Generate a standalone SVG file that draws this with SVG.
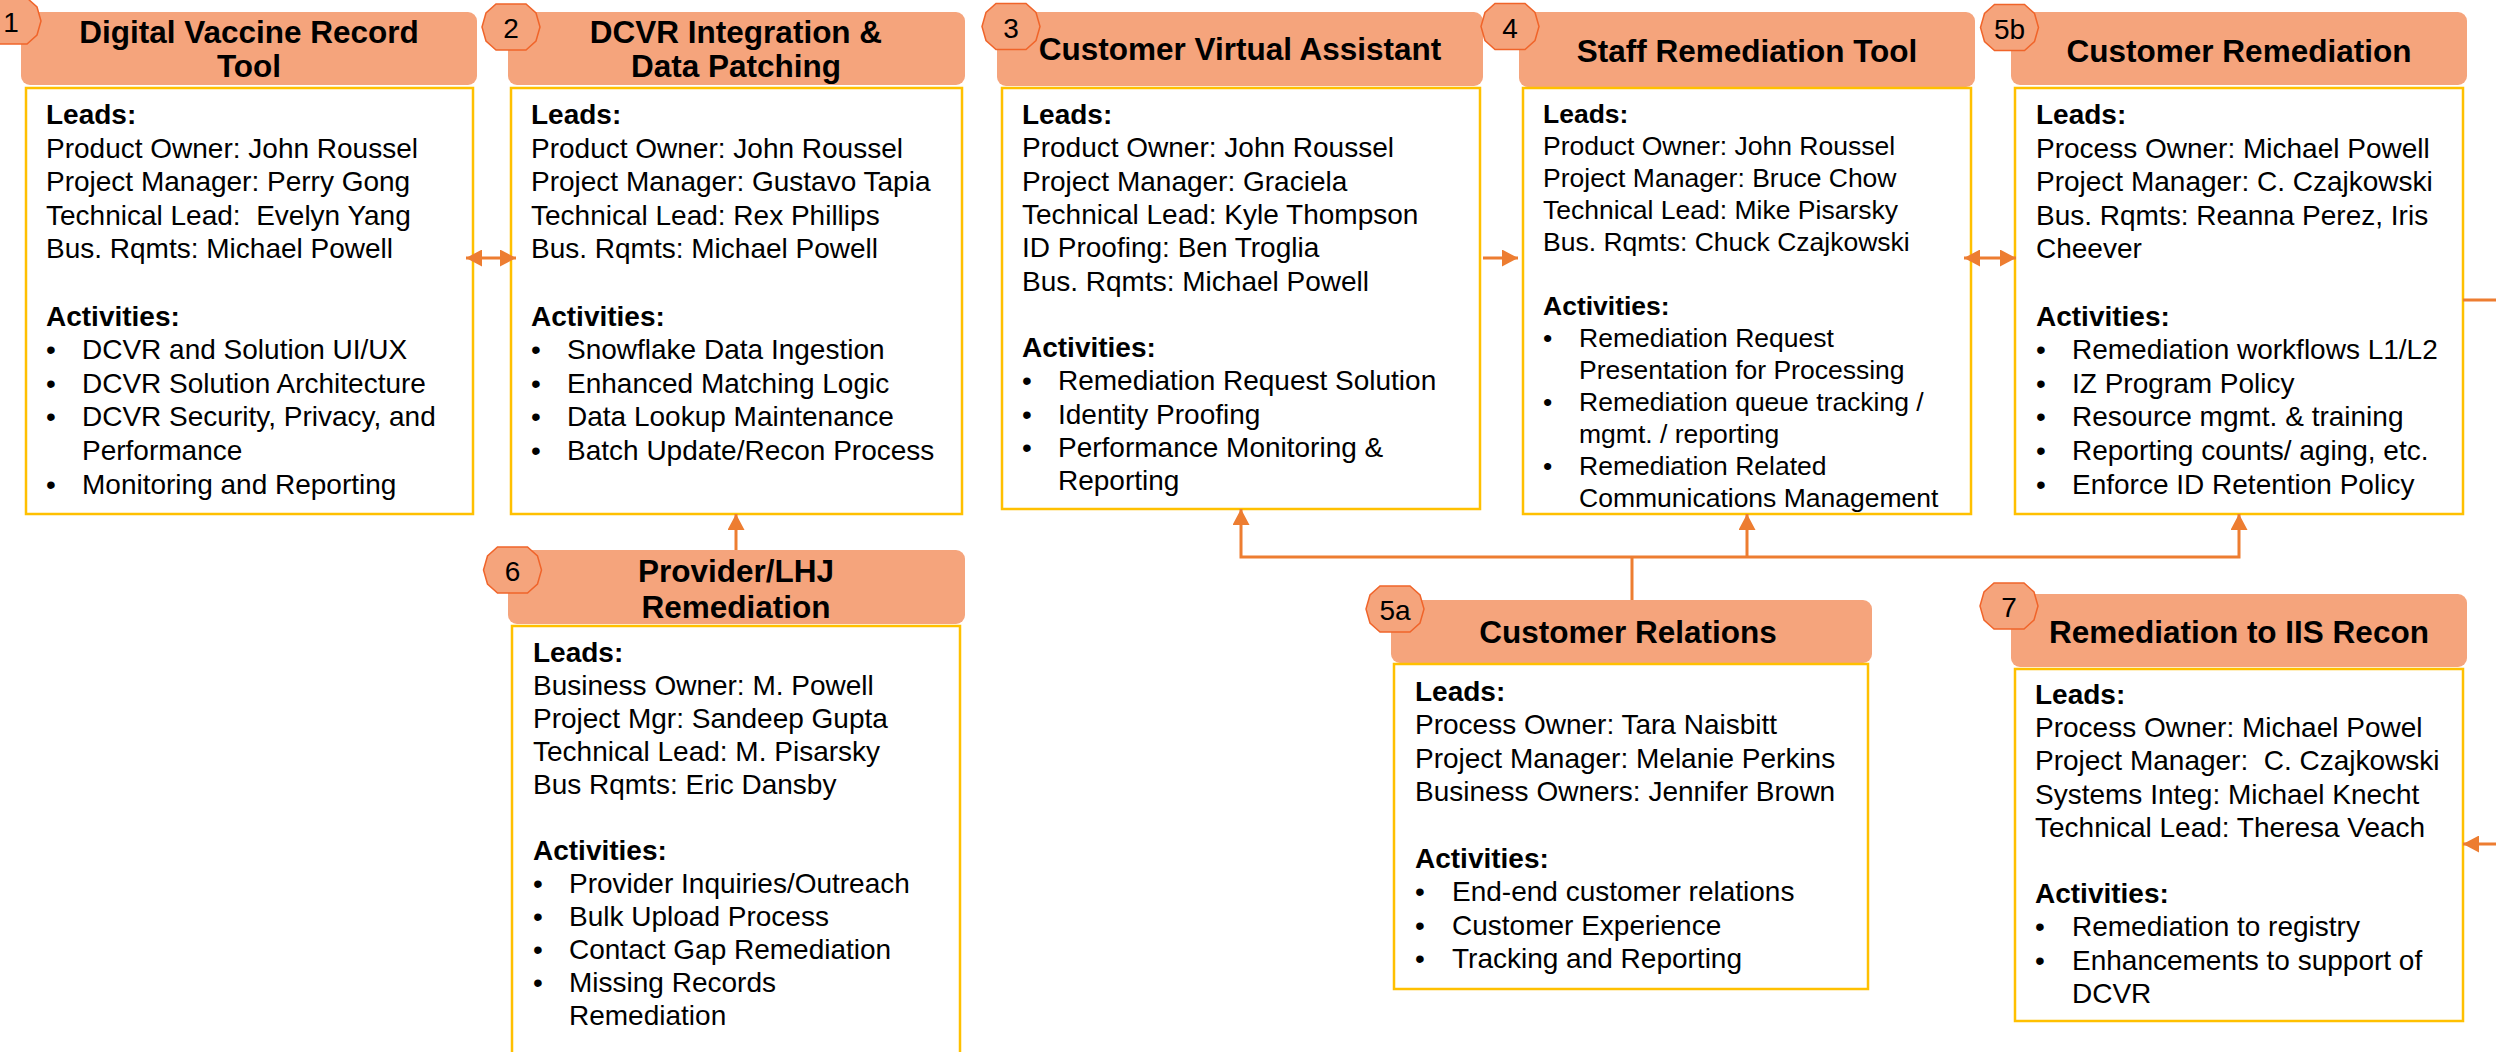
<svg xmlns="http://www.w3.org/2000/svg" xmlns:xlink="http://www.w3.org/1999/xlink" width="2496" height="1052" viewBox="0 0 2496 1052">
<style>
.hdr{fill:#F5A47C}
.bd{fill:#FFFFFF;stroke:#FFC000;stroke-width:2.5}
.bg{fill:#F5A47C;stroke:#F0642A;stroke-width:1.5}
.t{font-family:"Liberation Sans",Arial,sans-serif;font-size:28px;fill:#000}
.t4{font-family:"Liberation Sans",Arial,sans-serif;font-size:26.5px;fill:#000}
.b{font-weight:bold}
.ttl{font-family:"Liberation Sans",Arial,sans-serif;font-size:31.5px;font-weight:bold;text-anchor:middle;fill:#000}
.num{font-family:"Liberation Sans",Arial,sans-serif;font-size:28px;text-anchor:middle;fill:#000}
.conn{stroke:#ED7D31;stroke-width:3;fill:none}
</style>
<defs>
<polygon id="badge" points="-15,-23 15,-23 25,-14 29,0 25,14 15,23 -15,23 -25,14 -29,0 -25,-14"/>
<marker id="ah" markerUnits="userSpaceOnUse" markerWidth="17" markerHeight="17" refX="16" refY="8.5" orient="auto-start-reverse"><path d="M0,0 L16,8.5 L0,17 z" fill="#ED7D31"/></marker>
</defs>
<rect width="2496" height="1052" fill="#FFFFFF"/>

<g id="node1">
<rect class="hdr" x="21" y="12" width="456" height="73" rx="9"/>
<rect class="bd" x="26" y="88" width="447" height="426"/>
<use xlink:href="#badge" class="bg" x="12" y="21"/>
<text class="num" x="11" y="32">1</text>
<text class="ttl"><tspan x="249" y="42.7">Digital Vaccine Record</tspan><tspan x="249" y="77">Tool</tspan></text>
<text class="t">
<tspan class="b" x="46" y="124">Leads:</tspan>
<tspan x="46" y="157.6">Product Owner: John Roussel</tspan>
<tspan x="46" y="191.2">Project Manager: Perry Gong</tspan>
<tspan x="46" y="224.8">Technical Lead:&#160; Evelyn Yang</tspan>
<tspan x="46" y="258.4">Bus. Rqmts: Michael Powell</tspan>
<tspan class="b" x="46" y="325.6">Activities:</tspan>
<tspan x="46" y="359.2">•</tspan><tspan x="82" y="359.2">DCVR and Solution UI/UX</tspan>
<tspan x="46" y="392.8">•</tspan><tspan x="82" y="392.8">DCVR Solution Architecture</tspan>
<tspan x="46" y="426.4">•</tspan><tspan x="82" y="426.4">DCVR Security, Privacy, and</tspan>
<tspan x="82" y="460">Performance</tspan>
<tspan x="46" y="493.6">•</tspan><tspan x="82" y="493.6">Monitoring and Reporting</tspan>
</text>
</g>

<g id="node2">
<rect class="hdr" x="508" y="12" width="457" height="73" rx="9"/>
<rect class="bd" x="511" y="88" width="451" height="426"/>
<use xlink:href="#badge" class="bg" x="511" y="27"/>
<text class="num" x="511" y="38">2</text>
<text class="ttl"><tspan x="736" y="43">DCVR Integration &amp;</tspan><tspan x="736" y="77">Data Patching</tspan></text>
<text class="t">
<tspan class="b" x="531" y="124">Leads:</tspan>
<tspan x="531" y="157.6">Product Owner: John Roussel</tspan>
<tspan x="531" y="191.2">Project Manager: Gustavo Tapia</tspan>
<tspan x="531" y="224.8">Technical Lead: Rex Phillips</tspan>
<tspan x="531" y="258.4">Bus. Rqmts: Michael Powell</tspan>
<tspan class="b" x="531" y="325.6">Activities:</tspan>
<tspan x="531" y="359.2">•</tspan><tspan x="567" y="359.2">Snowflake Data Ingestion</tspan>
<tspan x="531" y="392.8">•</tspan><tspan x="567" y="392.8">Enhanced Matching Logic</tspan>
<tspan x="531" y="426.4">•</tspan><tspan x="567" y="426.4">Data Lookup Maintenance</tspan>
<tspan x="531" y="460">•</tspan><tspan x="567" y="460">Batch Update/Recon Process</tspan>
</text>
</g>

<g id="node3">
<rect class="hdr" x="997" y="12" width="486" height="74" rx="9"/>
<rect class="bd" x="1002" y="88" width="478" height="421"/>
<use xlink:href="#badge" class="bg" x="1011" y="26.5"/>
<text class="num" x="1011" y="37.5">3</text>
<text class="ttl" x="1240" y="60">Customer Virtual Assistant</text>
<text class="t">
<tspan class="b" x="1022" y="124">Leads:</tspan>
<tspan x="1022" y="157.3">Product Owner: John Roussel</tspan>
<tspan x="1022" y="190.6">Project Manager: Graciela</tspan>
<tspan x="1022" y="223.9">Technical Lead: Kyle Thompson</tspan>
<tspan x="1022" y="257.2">ID Proofing: Ben Troglia</tspan>
<tspan x="1022" y="290.5">Bus. Rqmts: Michael Powell</tspan>
<tspan class="b" x="1022" y="357.1">Activities:</tspan>
<tspan x="1022" y="390.4">•</tspan><tspan x="1058" y="390.4">Remediation Request Solution</tspan>
<tspan x="1022" y="423.7">•</tspan><tspan x="1058" y="423.7">Identity Proofing</tspan>
<tspan x="1022" y="457">•</tspan><tspan x="1058" y="457">Performance Monitoring &amp;</tspan>
<tspan x="1058" y="490.3">Reporting</tspan>
</text>
</g>

<g id="node4">
<rect class="hdr" x="1519" y="12" width="456" height="75" rx="9"/>
<rect class="bd" x="1523" y="88" width="448" height="426"/>
<use xlink:href="#badge" class="bg" x="1510" y="26.5"/>
<text class="num" x="1510" y="37.5">4</text>
<text class="ttl" x="1747" y="62">Staff Remediation Tool</text>
<text class="t4">
<tspan class="b" x="1543" y="123">Leads:</tspan>
<tspan x="1543" y="155">Product Owner: John Roussel</tspan>
<tspan x="1543" y="187">Project Manager: Bruce Chow</tspan>
<tspan x="1543" y="219">Technical Lead: Mike Pisarsky</tspan>
<tspan x="1543" y="251">Bus. Rqmts: Chuck Czajkowski</tspan>
<tspan class="b" x="1543" y="315">Activities:</tspan>
<tspan x="1543" y="347">•</tspan><tspan x="1579" y="347">Remediation Request</tspan>
<tspan x="1579" y="379">Presentation for Processing</tspan>
<tspan x="1543" y="411">•</tspan><tspan x="1579" y="411">Remediation queue tracking /</tspan>
<tspan x="1579" y="443">mgmt. / reporting</tspan>
<tspan x="1543" y="475">•</tspan><tspan x="1579" y="475">Remediation Related</tspan>
<tspan x="1579" y="507">Communications Management</tspan>
</text>
</g>

<g id="node5b">
<rect class="hdr" x="2011" y="12" width="456" height="73" rx="9"/>
<rect class="bd" x="2015" y="88" width="448" height="426"/>
<use xlink:href="#badge" class="bg" x="2009.5" y="27.5"/>
<text class="num" x="2009.5" y="38.5">5b</text>
<text class="ttl" x="2239" y="62">Customer Remediation</text>
<text class="t">
<tspan class="b" x="2036" y="124">Leads:</tspan>
<tspan x="2036" y="157.6">Process Owner: Michael Powell</tspan>
<tspan x="2036" y="191.2">Project Manager: C. Czajkowski</tspan>
<tspan x="2036" y="224.8">Bus. Rqmts: Reanna Perez, Iris</tspan>
<tspan x="2036" y="258.4">Cheever</tspan>
<tspan class="b" x="2036" y="325.6">Activities:</tspan>
<tspan x="2036" y="359.2">•</tspan><tspan x="2072" y="359.2">Remediation workflows L1/L2</tspan>
<tspan x="2036" y="392.8">•</tspan><tspan x="2072" y="392.8">IZ Program Policy</tspan>
<tspan x="2036" y="426.4">•</tspan><tspan x="2072" y="426.4">Resource mgmt. &amp; training</tspan>
<tspan x="2036" y="460">•</tspan><tspan x="2072" y="460">Reporting counts/ aging, etc.</tspan>
<tspan x="2036" y="493.6">•</tspan><tspan x="2072" y="493.6">Enforce ID Retention Policy</tspan>
</text>
</g>

<g id="node6">
<rect class="hdr" x="508" y="550" width="457" height="74" rx="9"/>
<rect class="bd" x="512" y="626" width="448" height="440"/>
<use xlink:href="#badge" class="bg" x="512.5" y="570"/>
<text class="num" x="512.5" y="581">6</text>
<text class="ttl"><tspan x="736" y="582">Provider/LHJ</tspan><tspan x="736" y="618">Remediation</tspan></text>
<text class="t">
<tspan class="b" x="533" y="662">Leads:</tspan>
<tspan x="533" y="695">Business Owner: M. Powell</tspan>
<tspan x="533" y="728">Project Mgr: Sandeep Gupta</tspan>
<tspan x="533" y="761">Technical Lead: M. Pisarsky</tspan>
<tspan x="533" y="794">Bus Rqmts: Eric Dansby</tspan>
<tspan class="b" x="533" y="860">Activities:</tspan>
<tspan x="533" y="893">•</tspan><tspan x="569" y="893">Provider Inquiries/Outreach</tspan>
<tspan x="533" y="926">•</tspan><tspan x="569" y="926">Bulk Upload Process</tspan>
<tspan x="533" y="959">•</tspan><tspan x="569" y="959">Contact Gap Remediation</tspan>
<tspan x="533" y="992">•</tspan><tspan x="569" y="992">Missing Records</tspan>
<tspan x="569" y="1025">Remediation</tspan>
</text>
</g>

<g id="node5a">
<rect class="hdr" x="1391" y="600" width="481" height="63" rx="9"/>
<rect class="bd" x="1394" y="664" width="474" height="325"/>
<use xlink:href="#badge" class="bg" x="1395" y="609"/>
<text class="num" x="1395" y="620">5a</text>
<text class="ttl" x="1628" y="643">Customer Relations</text>
<text class="t">
<tspan class="b" x="1415" y="701">Leads:</tspan>
<tspan x="1415" y="734.4">Process Owner: Tara Naisbitt</tspan>
<tspan x="1415" y="767.8">Project Manager: Melanie Perkins</tspan>
<tspan x="1415" y="801.2">Business Owners: Jennifer Brown</tspan>
<tspan class="b" x="1415" y="868">Activities:</tspan>
<tspan x="1415" y="901.4">•</tspan><tspan x="1452" y="901.4">End-end customer relations</tspan>
<tspan x="1415" y="934.8">•</tspan><tspan x="1452" y="934.8">Customer Experience</tspan>
<tspan x="1415" y="968.2">•</tspan><tspan x="1452" y="968.2">Tracking and Reporting</tspan>
</text>
</g>

<g id="node7">
<rect class="hdr" x="2011" y="594" width="456" height="73" rx="9"/>
<rect class="bd" x="2015" y="669" width="448" height="352"/>
<use xlink:href="#badge" class="bg" x="2009" y="606"/>
<text class="num" x="2009" y="617">7</text>
<text class="ttl" x="2239" y="643">Remediation to IIS Recon</text>
<text class="t">
<tspan class="b" x="2035" y="704">Leads:</tspan>
<tspan x="2035" y="737.2">Process Owner: Michael Powel</tspan>
<tspan x="2035" y="770.4">Project Manager:&#160; C. Czajkowski</tspan>
<tspan x="2035" y="803.6">Systems Integ: Michael Knecht</tspan>
<tspan x="2035" y="836.8">Technical Lead: Theresa Veach</tspan>
<tspan class="b" x="2035" y="903.2">Activities:</tspan>
<tspan x="2035" y="936.4">•</tspan><tspan x="2072" y="936.4">Remediation to registry</tspan>
<tspan x="2035" y="969.6">•</tspan><tspan x="2072" y="969.6">Enhancements to support of</tspan>
<tspan x="2072" y="1002.8">DCVR</tspan>
</text>
</g>

<g id="connectors">
<line class="conn" x1="466" y1="258" x2="516" y2="258" marker-start="url(#ah)" marker-end="url(#ah)"/>
<line class="conn" x1="1483" y1="258" x2="1518" y2="258" marker-end="url(#ah)"/>
<line class="conn" x1="1964" y1="258" x2="2016" y2="258" marker-start="url(#ah)" marker-end="url(#ah)"/>
<line class="conn" x1="736" y1="550" x2="736" y2="514" marker-end="url(#ah)"/>
<polyline class="conn" points="1632,600 1632,557"/>
<polyline class="conn" points="1241,509 1241,557 2239,557 2239,514" marker-start="url(#ah)" marker-end="url(#ah)"/>
<line class="conn" x1="1747" y1="557" x2="1747" y2="514" marker-end="url(#ah)"/>
<polyline class="conn" points="2463,300 2530,300 2530,844 2463,844" marker-end="url(#ah)"/>
</g>
</svg>
